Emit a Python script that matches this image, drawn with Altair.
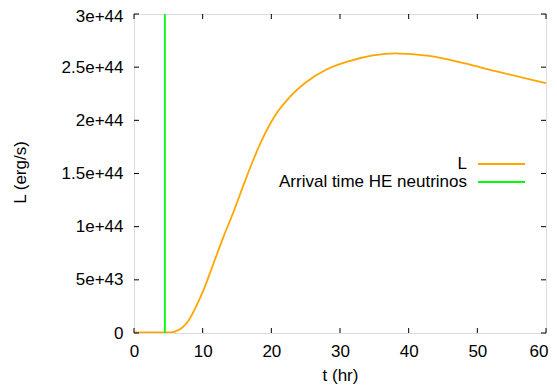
import altair as alt
import pandas as pd

# Luminosity curve (t in hr, L in erg/s)
t_hr = [0, 1, 2, 3, 4, 5, 5.6, 6.2, 7.0, 7.7, 8.9, 10.1, 11.5, 13.0, 14.5, 16.0,
        18.3, 20.3, 22.7, 25.1, 28.1, 31.5, 34.8, 38.0, 43.0, 48.0, 52.8, 60.0]
L_1e42 = [0.5, 0.5, 0.5, 0.5, 0.5, 0.5, 0.7, 2.1, 5.0, 9.6, 23, 40, 64, 90, 114, 140,
          177, 202, 222, 236, 248, 256, 261, 263, 260.6, 253.7, 246, 235]
arrival_time = [4.5]
series_names = ["L", "Arrival time HE neutrinos"]
series_colors = ["#FFA500", "#00FF00"]
x_ticks = [0, 10, 20, 30, 40, 50, 60]
y_ticks = [0, 5e43, 1e44, 1.5e44, 2e44, 2.5e44, 3e44]

W, H = 412, 319
TOP = 14
FONT = "Liberation Sans"
FS = 17

curve = pd.DataFrame({"t": t_hr, "L": [v * 1e42 for v in L_1e42]})
arr = pd.DataFrame({"t": arrival_time})
xt = pd.DataFrame({"t": x_ticks})
yt = pd.DataFrame({"L": y_ticks})
leg = pd.DataFrame({"name": series_names, "color": series_colors, "row": [0, 1]})

xscale = alt.Scale(domain=[0, 60], nice=False, zero=False)
yscale = alt.Scale(domain=[0, 3e44], nice=False, zero=False)

xaxis = alt.Axis(values=x_ticks, grid=False, ticks=False, tickSize=0, domain=False,
                 labelFont=FONT, labelFontSize=FS, labelColor="black", labelPadding=10,
                 labelAlign={"condition": {"test": "datum.value == 60", "value": "right"},
                             "value": "center"},
                 labelOffset={"condition": {"test": "datum.value == 60", "value": 2},
                              "value": 0},
                 title="t (hr)", titleFont=FONT, titleFontSize=FS, titleFontWeight="normal",
                 titleColor="black", titleY=42, titleBaseline="middle")
yaxis = alt.Axis(values=y_ticks, grid=False, ticks=False, tickSize=0, domain=False,
                 labelExpr="datum.value == 0 ? '0' : format(datum.value, '~e')",
                 labelOffset={"condition": {"test": "datum.value == 3e44", "value": 2},
                              "value": 0},
                 labelFont=FONT, labelFontSize=FS, labelColor="black", labelPadding=11,
                 title="L (erg/s)", titleFont=FONT, titleFontSize=FS, titleFontWeight="normal",
                 titleColor="black", titleX=-114, titleY=158, titleAngle=270,
                 titleAlign="center", titleBaseline="middle")

line = alt.Chart(curve).mark_line(color=series_colors[0], strokeWidth=1.8, clip=True,
                                  interpolate="monotone").encode(
    x=alt.X("t:Q", scale=xscale, axis=xaxis),
    y=alt.Y("L:Q", scale=yscale, axis=yaxis),
)

vline = alt.Chart(arr).mark_rule(color=series_colors[1], strokeWidth=1.8).encode(
    x=alt.X("t:Q", scale=xscale),
)

tk = dict(color="black", strokeWidth=1)
bot = alt.Chart(xt).mark_rule(**tk).encode(x=alt.X("t:Q", scale=xscale), y=alt.value(H), y2=alt.value(H - 5))
top = alt.Chart(xt).mark_rule(**tk).encode(x=alt.X("t:Q", scale=xscale), y=alt.value(0), y2=alt.value(5))
lft = alt.Chart(yt).mark_rule(**tk).encode(y=alt.Y("L:Q", scale=yscale, axis=None), x=alt.value(0), x2=alt.value(5))
rgt = alt.Chart(yt).mark_rule(**tk).encode(y=alt.Y("L:Q", scale=yscale, axis=None), x=alt.value(W), x2=alt.value(W - 5))

# legend (gnuplot style: text right-aligned, sample line to the right)
legy = alt.Scale(domain=[0, 1], range=[150, 168])
leg_text = alt.Chart(leg).mark_text(align="right", baseline="middle", font=FONT, fontSize=FS,
                                    color="black").encode(
    text="name:N",
    x=alt.value(333),
    y=alt.Y("row:Q", scale=legy, axis=None),
)
leg_line = alt.Chart(leg).mark_rule(strokeWidth=1.8).encode(
    x=alt.value(344), x2=alt.value(391),
    y=alt.Y("row:Q", scale=legy, axis=None),
    color=alt.Color("color:N", scale=None),
)

chart = alt.layer(line, vline, bot, top, lft, rgt, leg_text, leg_line).resolve_scale(
    y="independent"
).properties(
    width=W, height=H,
    autosize=alt.AutoSizeParams(type="none"),
    padding={"left": 126, "top": TOP - 8, "right": 3, "bottom": 51},
).configure_view(stroke="black", strokeWidth=1.5).configure(background="white")

chart.save("out.html", embed_options={"renderer": "svg", "actions": False})
